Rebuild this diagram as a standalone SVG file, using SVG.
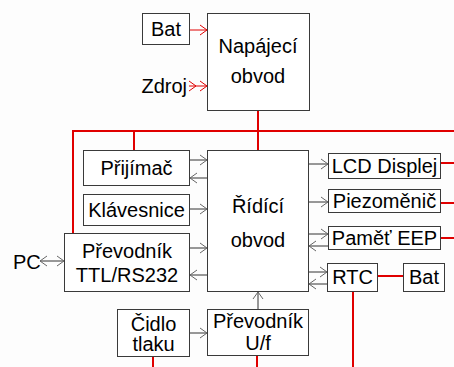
<svg xmlns="http://www.w3.org/2000/svg" width="454" height="367" viewBox="0 0 454 367">
<defs>
<style>
.box{fill:#fff;stroke:#3a3a3a;stroke-width:1}
.t{font-family:"Liberation Sans",Arial,sans-serif;font-size:20px;fill:#000;text-anchor:middle}
.c{stroke:#333;stroke-width:1;fill:none}
.r{stroke:#e00000;stroke-width:2;fill:none}
.ra{stroke:#e00000;stroke-width:1;fill:none}
</style>
<marker id="a" markerUnits="userSpaceOnUse" markerWidth="12" markerHeight="12" refX="8" refY="6" orient="auto">
<path d="M1,1 L8,6 L1,11" fill="none" stroke="#666" stroke-width="1"/>
</marker>
<marker id="as" markerUnits="userSpaceOnUse" markerWidth="12" markerHeight="12" refX="0" refY="6" orient="auto">
<path d="M7,1 L0,6 L7,11" fill="none" stroke="#666" stroke-width="1"/>
</marker>
<marker id="ar" markerUnits="userSpaceOnUse" markerWidth="12" markerHeight="12" refX="8" refY="6" orient="auto">
<path d="M1,1 L8,6 L1,11" fill="none" stroke="#e00000" stroke-width="1"/>
</marker>
</defs>
<rect width="454" height="367" fill="#fdfdfd"/>
<g id="connectors">
<line class="ra" x1="190" y1="30" x2="207" y2="30" marker-end="url(#ar)"/>
<line class="ra" x1="196" y1="86" x2="207" y2="86" marker-start="url(#ar)" marker-end="url(#ar)"/>
<line class="ra" x1="189" y1="86" x2="196" y2="86"/>
<line class="r" x1="258" y1="111" x2="258" y2="150"/>
<line class="r" x1="73" y1="131" x2="454" y2="131"/>
<line class="r" x1="73" y1="130" x2="73" y2="233"/>
<line class="r" x1="134" y1="131" x2="134" y2="150"/>
<line class="c" x1="190" y1="160" x2="207" y2="160" marker-end="url(#a)"/>
<line class="c" x1="207" y1="178" x2="190" y2="178" marker-end="url(#a)"/>
<line class="c" x1="190" y1="209" x2="207" y2="209" marker-end="url(#a)"/>
<line class="c" x1="190" y1="248" x2="207" y2="248" marker-end="url(#a)"/>
<line class="c" x1="207" y1="275" x2="190" y2="275" marker-end="url(#a)"/>
<line class="c" x1="40" y1="261" x2="64" y2="261" marker-start="url(#as)" marker-end="url(#a)"/>
<line class="c" x1="190" y1="333" x2="207" y2="333" marker-end="url(#a)"/>
<line class="c" x1="258" y1="309" x2="258" y2="292" marker-end="url(#a)"/>
<line class="c" x1="309" y1="164" x2="328" y2="164" marker-end="url(#a)"/>
<line class="c" x1="309" y1="202" x2="328" y2="202" marker-end="url(#a)"/>
<line class="c" x1="309" y1="234" x2="328" y2="234" marker-end="url(#a)"/>
<line class="c" x1="328" y1="246" x2="309" y2="246" marker-end="url(#a)"/>
<line class="c" x1="309" y1="272" x2="327" y2="272" marker-end="url(#a)"/>
<line class="c" x1="327" y1="284" x2="309" y2="284" marker-end="url(#a)"/>
<line class="r" x1="441" y1="163" x2="454" y2="163"/>
<line class="r" x1="441" y1="203" x2="454" y2="203"/>
<line class="r" x1="441" y1="238" x2="454" y2="238"/>
<line class="r" x1="378" y1="276" x2="403" y2="276"/>
<line class="r" x1="353" y1="292" x2="353" y2="367"/>
<line class="r" x1="257" y1="356" x2="257" y2="367"/>
<line class="r" x1="153" y1="357" x2="153" y2="367"/>
</g>
<g id="bat1"><rect class="box" x="142.5" y="13.5" width="47" height="31"/><text class="t" x="166" y="36">Bat</text></g>
<g id="zdroj"><text class="t" x="187" y="93" style="text-anchor:end">Zdroj</text></g>
<g id="napajeci"><rect class="box" x="207.5" y="13.5" width="102" height="97"/><text class="t" x="258" y="53">Napájecí</text><text class="t" x="258" y="83">obvod</text></g>
<g id="prijimac"><rect class="box" x="83.5" y="150.5" width="106" height="35"/><text class="t" x="136.5" y="175">Přijímač</text></g>
<g id="klavesnice"><rect class="box" x="83.5" y="194.5" width="106" height="31"/><text class="t" x="136.5" y="217">Klávesnice</text></g>
<g id="prevodnik-ttl"><rect class="box" x="64.5" y="233.5" width="125" height="58"/><text class="t" x="127" y="258">Převodník</text><text class="t" x="127" y="282">TTL/RS232</text></g>
<g id="pc"><text class="t" x="13" y="269" style="text-anchor:start">PC</text></g>
<g id="ridici"><rect class="box" x="207.5" y="150.5" width="101" height="141"/><text class="t" x="258" y="213">Řídící</text><text class="t" x="258" y="247">obvod</text></g>
<g id="cidlo"><rect class="box" x="117.5" y="309.5" width="72" height="47"/><text class="t" x="153.5" y="331">Čidlo</text><text class="t" x="153.5" y="351">tlaku</text></g>
<g id="prevodnik-uf"><rect class="box" x="207.5" y="309.5" width="101" height="46"/><text class="t" x="258" y="328">Převodník</text><text class="t" x="258" y="350">U/f</text></g>
<g id="lcd"><rect class="box" x="328.5" y="153.5" width="112" height="25"/><text class="t" x="384.5" y="173">LCD Displej</text></g>
<g id="piezo"><rect class="box" x="328.5" y="189.5" width="112" height="23"/><text class="t" x="384.5" y="208">Piezoměnič</text></g>
<g id="pamet"><rect class="box" x="328.5" y="226.5" width="112" height="23"/><text class="t" x="384.5" y="245">Paměť EEP</text></g>
<g id="rtc"><rect class="box" x="327.5" y="263.5" width="50" height="28"/><text class="t" x="352.5" y="284">RTC</text></g>
<g id="bat2"><rect class="box" x="403.5" y="263.5" width="41" height="28"/><text class="t" x="424" y="284">Bat</text></g>
</svg>
